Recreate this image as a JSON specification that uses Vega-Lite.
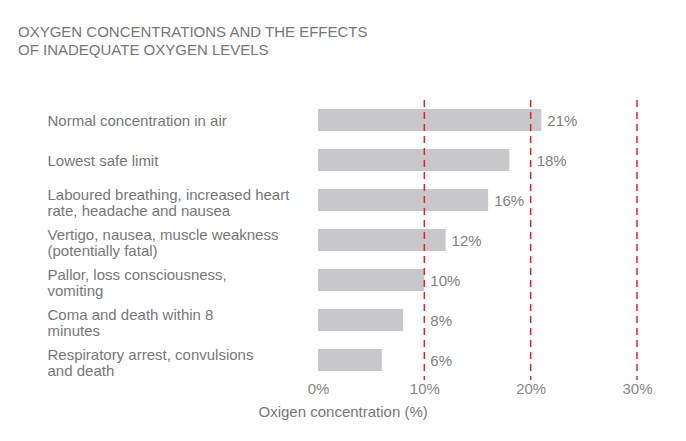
{
  "$schema": "https://vega.github.io/schema/vega-lite/v6.json",
  "width": 319,
  "height": 280,
  "autosize": {"type": "none"},
  "padding": {"left": 318, "top": 100, "right": 49, "bottom": 61},
  "background": "white",
  "config": {
    "font": "Liberation Sans",
    "view": {"stroke": null}
  },
  "title": {
    "text": ["OXYGEN CONCENTRATIONS AND THE EFFECTS", "OF INADEQUATE OXYGEN LEVELS"],
    "anchor": "start",
    "frame": "group",
    "dx": -300,
    "offset": 41,
    "fontSize": 15,
    "font": "Liberation Sans",
    "fontWeight": "normal",
    "color": "#777777",
    "lineHeight": 18
  },
  "data": {
    "values": [
      {"effect": "Normal concentration in air", "value": 21},
      {"effect": "Lowest safe limit", "value": 18},
      {"effect": "Laboured breathing, increased heart\nrate, headache and nausea", "value": 16},
      {"effect": "Vertigo, nausea, muscle weakness\n(potentially fatal)", "value": 12},
      {"effect": "Pallor, loss consciousness,\nvomiting", "value": 10},
      {"effect": "Coma and death within 8\nminutes", "value": 8},
      {"effect": "Respiratory arrest, convulsions\nand death", "value": 6}
    ]
  },
  "layer": [
    {
      "mark": {"type": "bar", "color": "#c8c8ca"},
      "encoding": {
        "y": {
          "field": "effect",
          "type": "nominal",
          "sort": null,
          "scale": {"paddingInner": 0.45, "paddingOuter": 0.225},
          "axis": {
            "title": null,
            "domain": false,
            "ticks": false,
            "labelAlign": "left",
            "labelBaseline": "middle",
            "labelPadding": 271,
            "labelFontSize": 15,
            "labelColor": "#777777",
            "labelLineHeight": 16,
            "labelLimit": 300,
            "labelOffset": {"condition": {"test": "indexof(datum.value, '\\n') >= 0", "value": -5}, "value": 1},
            "labelExpr": "split(datum.value, '\\n')"
          }
        },
        "x": {
          "field": "value",
          "type": "quantitative",
          "scale": {"domain": [0, 30]},
          "axis": {
            "values": [0, 10, 20, 30],
            "labelExpr": "datum.value + '%'",
            "labelFlush": false,
            "domain": false,
            "ticks": false,
            "grid": false,
            "labelPadding": 1,
            "labelFontSize": 15,
            "labelColor": "#888888",
            "title": "Oxigen concentration (%)",
            "titleFontSize": 15,
            "titleFontWeight": "normal",
            "titleColor": "#777777",
            "titleAnchor": "start",
            "titleX": -60,
            "titlePadding": 8
          }
        }
      }
    },
    {
      "data": {"values": [{"level": 10}, {"level": 20}, {"level": 30}]},
      "mark": {"type": "rule", "color": "#e8202e", "strokeDash": [7, 5], "strokeWidth": 1.5},
      "encoding": {
        "x": {"field": "level", "type": "quantitative"}
      }
    },
    {
      "transform": [
        {"calculate": "datum.value < 10 ? 10 : (20 - datum.value > 0 && 20 - datum.value < 3 ? 20 : datum.value)", "as": "labelPos"},
        {"calculate": "datum.value + '%'", "as": "label"}
      ],
      "mark": {"type": "text", "align": "left", "baseline": "middle", "dx": 6, "dy": 1, "fontSize": 15, "color": "#808080"},
      "encoding": {
        "y": {"field": "effect", "type": "nominal", "sort": null},
        "x": {"field": "labelPos", "type": "quantitative"},
        "text": {"field": "label", "type": "nominal"}
      }
    }
  ]
}
